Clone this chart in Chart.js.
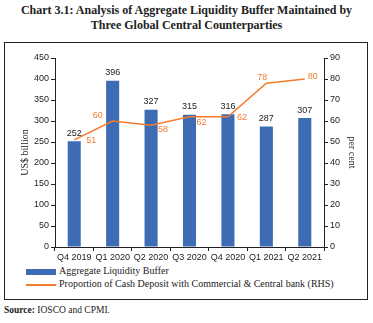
<!DOCTYPE html>
<html>
<head>
<meta charset="utf-8">
<script src="https://cdn.jsdelivr.net/npm/chart.js@4"></script>
<style>
  html, body { margin: 0; padding: 0; background: #fff; }
  body { width: 373px; height: 323px; position: relative; overflow: hidden; font-family: "Liberation Serif", serif; }
  #title { position: absolute; left: 0; top: 3px; width: 373px; text-align: center; font-weight: bold; font-size: 12px; line-height: 15px; color: #222; }
  #box { position: absolute; left: 4px; top: 42px; width: 362px; height: 256px; border: 1px solid #222; }
  #wrap { position: absolute; left: 0; top: 0; width: 373px; height: 262px; }
  #legend { position: absolute; left: 26px; top: 264px; font-size: 10px; color: #222; }
  .item { height: 13px; line-height: 13px; white-space: nowrap; }
  .sw { display: inline-block; width: 30px; margin-right: 3px; vertical-align: middle; }
  #source { position: absolute; left: 4px; top: 305px; font-size: 9.5px; color: #222; }
</style>
</head>
<body>
<div id="title">Chart 3.1: Analysis of Aggregate Liquidity Buffer Maintained by<br>Three Global Central Counterparties</div>
<div id="box"></div>
<div id="wrap"><canvas id="barLine"></canvas></div>
<div id="legend"></div>
<div id="source"><b>Source:</b> IOSCO and CPMI.</div>
<script>
// data
const quarters = ['Q4 2019', 'Q1 2020', 'Q2 2020', 'Q3 2020', 'Q4 2020', 'Q1 2021', 'Q2 2021'];
const liquidityBuffer = [252, 396, 327, 315, 316, 287, 307];
const cashDepositShare = [51, 60, 58, 62, 62, 78, 80];
// where each orange label sits relative to its point (px)
const shareLabelShift = [[17, 1], [-15, -5], [12, 4], [12, 6], [14, 1], [-4, -6], [8, -2]];

const BLUE = '#3e6cb4';
const ORANGE = '#f47b2f';
const tickFont = { family: '"Liberation Sans", sans-serif', size: 9 };

// value labels: dark above bars, orange beside the line points
const valueLabels = {
    id: 'valueLabels',
    afterDatasetsDraw(chart) {
        const c = chart.ctx;
        c.save();
        c.font = '9px "Liberation Sans", sans-serif';
        c.textAlign = 'center';
        c.textBaseline = 'middle';
        chart.getDatasetMeta(0).data.forEach((bar, i) => {
            c.fillStyle = '#222';
            c.fillText(liquidityBuffer[i], bar.x, bar.y - 8);
        });
        chart.getDatasetMeta(1).data.forEach((pt, i) => {
            c.fillStyle = ORANGE;
            c.fillText(cashDepositShare[i], pt.x + shareLabelShift[i][0], pt.y + shareLabelShift[i][1]);
        });
        c.restore();
    }
};

const chart = new Chart(document.getElementById('barLine'), {
    data: {
        labels: quarters,
        datasets: [
            {
                type: 'bar',
                label: 'Aggregate Liquidity Buffer',
                data: liquidityBuffer,
                backgroundColor: BLUE,
                categoryPercentage: 1,
                barPercentage: 0.34,
                yAxisID: 'y',
                order: 2
            },
            {
                type: 'line',
                label: 'Proportion of Cash Deposit with Commercial & Central bank (RHS)',
                data: cashDepositShare,
                borderColor: ORANGE,
                borderWidth: 1.6,
                pointRadius: 0,
                tension: 0,
                yAxisID: 'y1',
                order: 1
            }
        ]
    },
    options: {
        responsive: true,
        maintainAspectRatio: false,
        animation: false,
        layout: { padding: { top: 58, left: 19, right: 15, bottom: 0 } },
        plugins: { legend: { display: false }, tooltip: { enabled: false } },
        scales: {
            x: {
                grid: { drawOnChartArea: false, drawTicks: true, tickLength: 4, color: '#222', offset: true },
                border: { color: '#222' },
                ticks: { font: tickFont, color: '#222', padding: 1, maxRotation: 0 },
                afterFit: s => { s.height = 15; }
            },
            y: {
                position: 'left',
                min: 0, max: 450,
                ticks: { stepSize: 50, font: tickFont, color: '#222', padding: 2 },
                grid: { drawOnChartArea: false, tickLength: 4, color: '#222' },
                border: { color: '#222' },
                title: { display: true, text: 'US$ billion', font: { family: '"Liberation Serif", serif', size: 10 }, color: '#222', padding: 0 },
                afterFit: s => { s.width = 36; }
            },
            y1: {
                position: 'right',
                min: 0, max: 90,
                ticks: { stepSize: 10, font: tickFont, color: '#222', padding: 2 },
                grid: { drawOnChartArea: false, tickLength: 4, color: '#222' },
                border: { color: '#222' },
                title: { display: true, text: 'per cent', font: { family: '"Liberation Serif", serif', size: 10 }, color: '#222', padding: 0 },
                afterFit: s => { s.width = 34; }
            }
        }
    },
    plugins: [valueLabels]
});

// legend as plain html, stacked and left aligned like the original
const legend = document.getElementById('legend');
chart.data.datasets.forEach(ds => {
    const row = document.createElement('div');
    row.className = 'item';
    const sw = document.createElement('span');
    sw.className = 'sw';
    if (ds.type === 'bar') {
        sw.style.height = '6px';
        sw.style.background = ds.backgroundColor;
    } else {
        sw.style.height = '0';
        sw.style.borderTop = '2px solid ' + ds.borderColor;
    }
    row.appendChild(sw);
    row.appendChild(document.createTextNode(ds.label));
    legend.appendChild(row);
});
</script>
</body>
</html>
